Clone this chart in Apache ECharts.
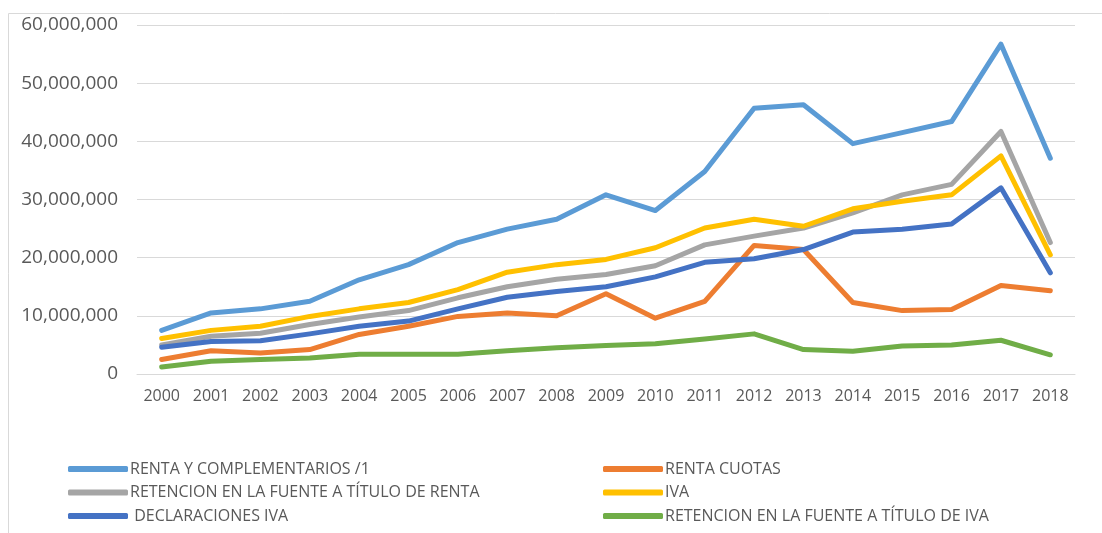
<!DOCTYPE html>
<html>
<head>
<meta charset="utf-8">
<script src="https://cdn.jsdelivr.net/npm/echarts@6/dist/echarts.min.js"></script>
<style>html,body{margin:0;padding:0;background:#fff;}#c{width:1102px;height:533px;}</style>
</head>
<body>
<div id="c"></div>
<script>
const years = ['2000','2001','2002','2003','2004','2005','2006','2007','2008','2009','2010','2011','2012','2013','2014','2015','2016','2017','2018'];
const yTicks = [0, 10000000, 20000000, 30000000, 40000000, 50000000, 60000000];
const rentaComplementarios = [7500000,10500000,11200000,12500000,16200000,18800000,22600000,24900000,26600000,30800000,28100000,34800000,45700000,46300000,39600000,41500000,43400000,56700000,37100000];
const rentaCuotas = [2500000,4000000,3600000,4200000,6800000,8200000,9900000,10500000,10000000,13800000,9600000,12500000,22100000,21400000,12300000,10900000,11100000,15200000,14300000];
const retencionRenta = [5000000,6500000,7000000,8500000,9800000,10900000,13100000,15000000,16300000,17100000,18600000,22200000,23700000,25100000,27700000,30800000,32600000,41700000,22600000];
const iva = [6100000,7500000,8200000,9900000,11200000,12300000,14500000,17500000,18800000,19700000,21700000,25100000,26600000,25400000,28400000,29700000,30800000,37500000,20500000];
const declaracionesIva = [4600000,5600000,5700000,6900000,8200000,9100000,11200000,13200000,14200000,15000000,16700000,19200000,19800000,21400000,24400000,24900000,25800000,32000000,17400000];
const retencionIva = [1200000,2200000,2500000,2750000,3400000,3400000,3400000,4000000,4500000,4900000,5200000,6000000,6900000,4200000,3900000,4800000,5000000,5800000,3300000];

const names = ['RENTA Y COMPLEMENTARIOS /1','RENTA CUOTAS','RETENCION EN LA FUENTE A TÍTULO DE RENTA','IVA',' DECLARACIONES IVA','RETENCION EN LA FUENTE A TÍTULO DE IVA'];
const colors = ['#5B9BD5','#ED7D31','#A5A5A5','#FFC000','#4472C4','#70AD47'];
const datas = [rentaComplementarios, rentaCuotas, retencionRenta, iva, declaracionesIva, retencionIva];

const font = '"Open Sans", "Noto Sans", sans-serif';
const chart = echarts.init(document.getElementById('c'), null, {renderer:'canvas'});
const legendPos = [[68,469],[603,469],[68,492.5],[603,492.5],[68,516],[603,516]];
const legends = names.map((n, i) => ({
  left: legendPos[i][0], top: legendPos[i][1] - 8, data: [n],
  itemWidth: 60, itemHeight: 6, icon: 'roundRect', padding: 0,
  textStyle: {fontFamily: font, fontSize: 16, color: '#595959', lineHeight: 16, padding: [0,0,0,-3]},
  selectedMode: false
}));
chart.setOption({
  animation: false,
  color: colors,
  graphic: [{type:'rect', shape:{x:8.5, y:13.5, width:1200, height:530}, style:{fill:'none', stroke:'#D9D9D9', lineWidth:1}, silent:true}],
  grid: {left: 137, right: 27, top: 25, bottom: 159},
  legend: legends,
  xAxis: {
    type: 'category', data: years, boundaryGap: true,
    axisLine: {show: true, lineStyle: {color: '#D9D9D9'}},
    axisTick: {show: false},
    axisLabel: {color: '#595959', fontFamily: font, fontSize: 16, margin: 14, interval: 0}
  },
  yAxis: {
    type: 'value', min: yTicks[0], max: yTicks[yTicks.length-1], interval: 10000000,
    axisLine: {show: false}, axisTick: {show: false},
    splitLine: {lineStyle: {color: '#D9D9D9', width: 1}},
    axisLabel: {color: '#595959', fontFamily: font, fontSize: 19, margin: 19,
      formatter: v => v.toLocaleString('en-US')}
  },
  series: datas.map((d, i) => ({
    name: names[i], type: 'line', data: d, symbol: 'none', z: 2 + i,
    lineStyle: {width: 5, color: colors[i], cap: 'round', join: 'round'},
    itemStyle: {color: colors[i]}
  }))
});
</script>
</body>
</html>
